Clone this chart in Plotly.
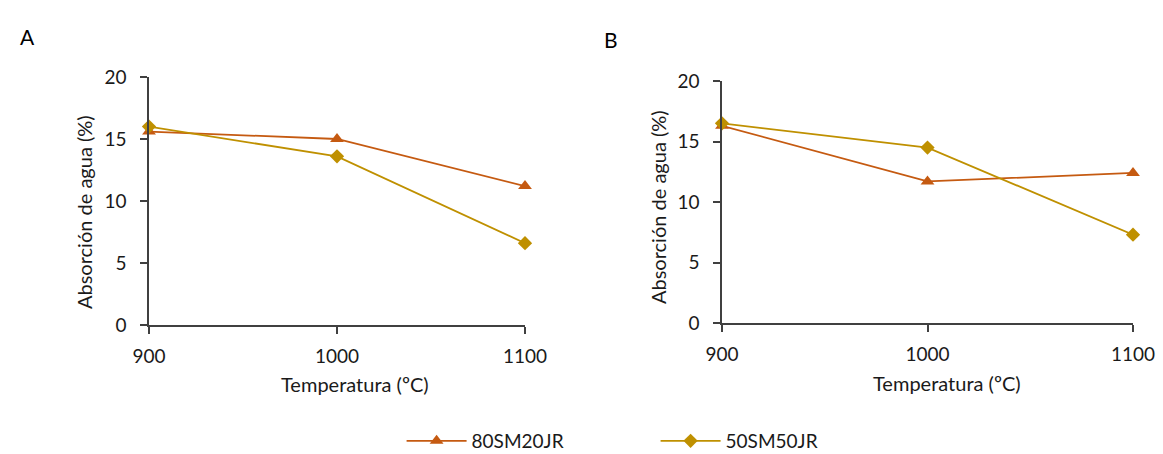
import plotly.graph_objects as go

temps = [900, 1000, 1100]
a_80sm20jr = [15.6, 15.0, 11.2]
a_50sm50jr = [16.0, 13.6, 6.6]
b_80sm20jr = [16.3, 11.7, 12.4]
b_50sm50jr = [16.5, 14.5, 7.3]
series_names = ["80SM20JR", "50SM50JR"]
y_ticks = [0, 5, 10, 15, 20]
x_title = "Temperatura (ºC)"
y_title = "Absorción de agua (%)"
panel_labels = ["A", "B"]

C1 = "#C55A11"
C2 = "#BF9000"
FONT = "Lato"
FS = 19
FT = 20
W, H = 1163, 454

fig = go.Figure()

def add(x, y, name, color, symbol, xa, ya, show):
    fig.add_trace(go.Scatter(
        x=x, y=y, name=name, mode="lines+markers",
        line=dict(color=color, width=1.8),
        marker=dict(symbol=symbol, size=12 if symbol == "triangle-up" else 11, color=color),
        xaxis=xa, yaxis=ya, showlegend=show, cliponaxis=False))

add(temps, a_80sm20jr, series_names[0], C1, "triangle-up", "x", "y", True)
add(temps, a_50sm50jr, series_names[1], C2, "diamond", "x", "y", True)
add(temps, b_80sm20jr, series_names[0], C1, "triangle-up", "x2", "y2", False)
add(temps, b_50sm50jr, series_names[1], C2, "diamond", "x2", "y2", False)

def px_x(v):
    return v / W

def px_y(v):
    return 1 - v / H

axis_common = dict(showline=True, linecolor="#404040", linewidth=1.5,
                   ticks="outside", tickcolor="#404040", ticklen=7, tickwidth=1.5,
                   showgrid=False, zeroline=False, automargin=False,
                   tickfont=dict(family=FONT, size=FS, color="#1a1a1a"))

xcommon = dict(axis_common, range=[900, 1100], tickvals=temps, ticktext=[str(t) for t in temps],
               ticklabelstandoff=6)
ycommon = dict(axis_common, range=[0, 20], tickvals=y_ticks, ticklabelstandoff=10)

fig.update_layout(
    width=W, height=H,
    margin=dict(l=0, r=0, t=0, b=0, autoexpand=False),
    paper_bgcolor="white", plot_bgcolor="white",
    font=dict(family=FONT, color="#1a1a1a"),
    xaxis=dict(xcommon, domain=[px_x(149), px_x(525)], anchor="y"),
    yaxis=dict(ycommon, domain=[px_y(325), px_y(77)], anchor="x"),
    xaxis2=dict(xcommon, domain=[px_x(722), px_x(1133)], anchor="y2"),
    yaxis2=dict(ycommon, domain=[px_y(323), px_y(81)], anchor="x2"),
    legend=dict(orientation="h", xanchor="center", x=0.5637, yanchor="middle", y=px_y(441),
                font=dict(family=FONT, size=FS, color="#1a1a1a"),
                entrywidth=179, itemwidth=60, bgcolor="rgba(0,0,0,0)"),
    showlegend=True,
)

annots = [
    dict(text=x_title, x=px_x(355), y=px_y(384)),
    dict(text=x_title, x=px_x(947), y=px_y(383)),
    dict(text=y_title, x=px_x(84), y=px_y(212), textangle=-90),
    dict(text=y_title, x=px_x(658), y=px_y(207), textangle=-90),
]
for a in annots:
    fig.add_annotation(xref="paper", yref="paper", showarrow=False,
                       xanchor="center", yanchor="middle",
                       font=dict(family=FONT, size=FT, color="#1a1a1a"), **a)

fig.add_annotation(text=panel_labels[0], xref="paper", yref="paper", x=px_x(18), y=px_y(22),
                   showarrow=False, font=dict(family=FONT, size=21, color="black"))
fig.add_annotation(text=panel_labels[1], xref="paper", yref="paper", x=px_x(611), y=px_y(25),
                   showarrow=False, font=dict(family=FONT, size=21, color="black"))

fig.write_html("out.html", config={"displayModeBar": False},
               post_script="document.body.style.margin='0';document.body.style.overflow='hidden';")
